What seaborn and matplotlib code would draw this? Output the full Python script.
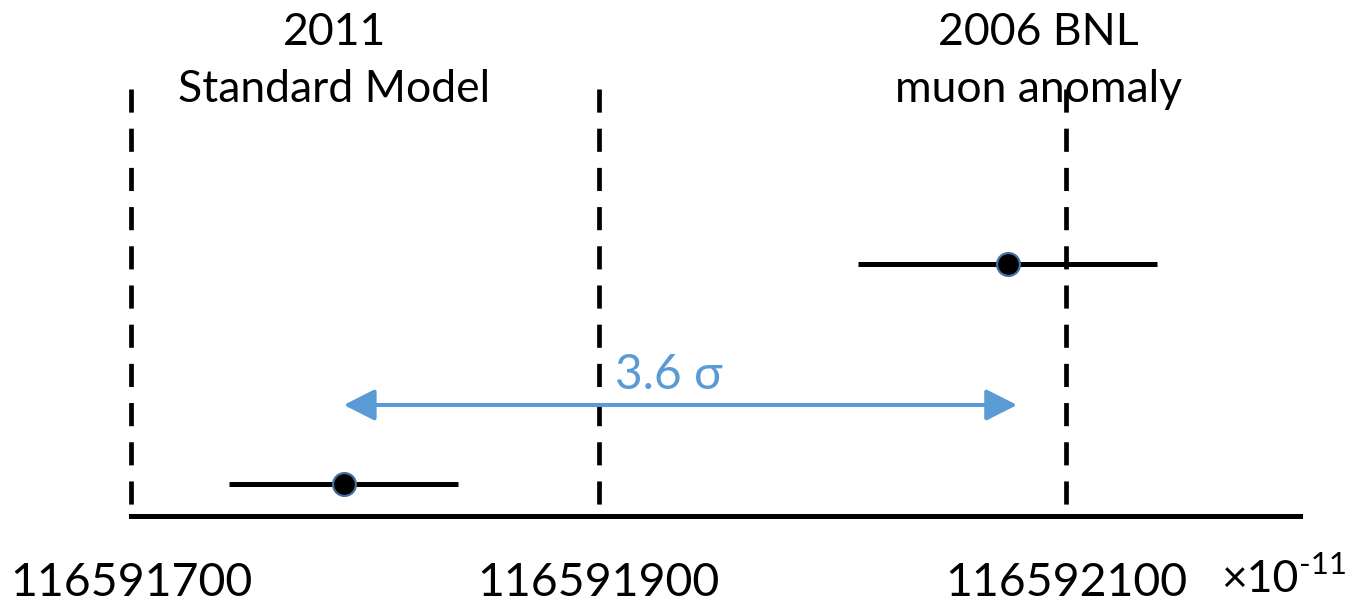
import matplotlib
matplotlib.use("Agg")
import matplotlib.pyplot as plt
import matplotlib.transforms as mtransforms
import seaborn as sns
import pandas as pd

# Measurements of the muon anomalous magnetic moment (units of 1e-11)
labels = ["2011\nStandard Model", "2006 BNL\nmuon anomaly"]
values = [116591791, 116592075]
errors = [49, 64]
sigma_label = "3.6 σ"
tick_values = [116591700, 116591900, 116592100]
tick_labels = ["116591700", "116591900", "116592100"]

df = pd.DataFrame({"label": labels, "value": values, "error": errors,
                   "row": [0.075, 0.59]})

sns.set_theme(style="white")
plt.rcParams["font.family"] = ["Lato", "DejaVu Sans"]
plt.rcParams["text.color"] = "black"

W, H, DPI = 1351, 605, 100
fig = plt.figure(figsize=(W / DPI, H / DPI), dpi=DPI)
ax = fig.add_axes([131 / W, (H - 516) / H, (1300 - 131) / W, (516 - 89) / H])
ax.set_xlim(116591700, 116592200)
ax.set_ylim(0, 1)

# Dashed reference lines at the labelled ticks, drawn from the top down
trans = mtransforms.blended_transform_factory(ax.transData, ax.transAxes)
for xv in tick_values:
    ax.plot([xv, xv], [1, 0], transform=trans, color="black", lw=3.4,
            ls=(0, (4.9, 3.4)), solid_capstyle="butt", dash_capstyle="butt",
            clip_on=False, zorder=1)

# Horizontal error bars
ax.hlines(df["row"], df["value"] - df["error"], df["value"] + df["error"],
          color="black", lw=3.6, zorder=2)
sns.scatterplot(data=df, x="value", y="row", ax=ax, s=270, color="black",
                edgecolor="#41719C", linewidth=1.6, zorder=3, legend=False)

# Tension arrow between the two values
arrow_y = 0.26
ax.annotate("", xy=(values[1] + 4, arrow_y), xytext=(values[0], arrow_y),
            arrowprops=dict(arrowstyle="<|-|>,head_length=0.95,head_width=0.48",
                            mutation_scale=20, color="#5B9BD5", lw=2.9,
                            shrinkA=0, shrinkB=0), zorder=2)
ax.text(116591907, 0.33, sigma_label, color="#5B9BD5", fontsize=34.5,
        ha="left", va="center")

# Labels above the dashed lines
for xv, lab in zip([116591787, 116592088], labels):
    ax.text(xv, 1.065, lab, ha="center", va="center", fontsize=32,
            linespacing=1.5, color="black", transform=trans, clip_on=False)

# Axes styling
for side in ["top", "left", "right"]:
    ax.spines[side].set_visible(False)
ax.spines["bottom"].set_linewidth(3.6)
ax.spines["bottom"].set_color("black")
ax.set_yticks([])
ax.set_xticks(tick_values)
ax.set_xticklabels(tick_labels, fontsize=33.5)
ax.tick_params(axis="x", length=0, pad=33, colors="black")
ax.set_xlabel("")
ax.set_ylabel("")

fig.text(1221 / W, 1 - 580 / H, "×10", fontsize=32, ha="left", va="center")
fig.text(1299 / W, 1 - 565 / H, "-11", fontsize=22.5, ha="left", va="center")

fig.savefig("out.png", dpi=DPI)
